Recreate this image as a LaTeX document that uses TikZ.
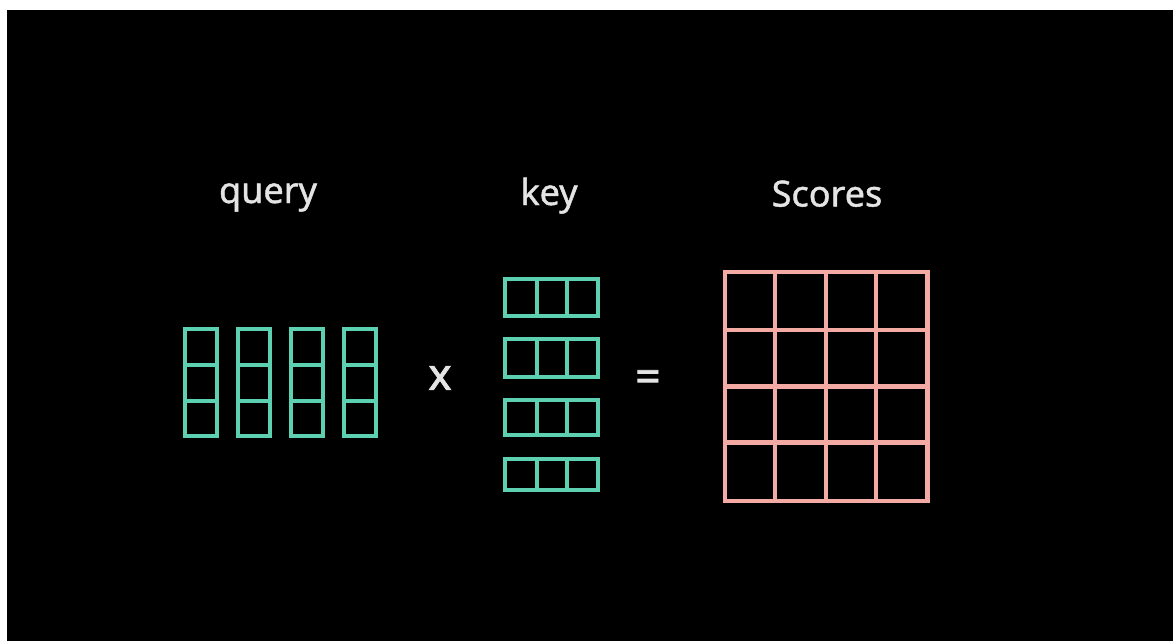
\documentclass[tikz,border=0pt]{standalone}
\usepackage{fontspec}
\setmainfont{Noto Sans}
\newfontfamily\lblfont[FakeBold=1.2]{Noto Sans}
\newfontfamily\opfont[FakeBold=1.8]{Noto Sans}
\definecolor{qcol}{HTML}{5CD0B0}
\definecolor{scol}{HTML}{F2AAA2}
\definecolor{tcol}{HTML}{E4E4E4}
\tikzset{
  qline/.style={draw=qcol, line width=4pt},
  sline/.style={draw=scol, line width=4.8pt, line cap=rect},
  label/.style={text=tcol, font=\lblfont\fontsize{36}{40}\selectfont, anchor=base, inner sep=0pt},
  op/.style={text=tcol, font=\opfont\fontsize{44}{48}\selectfont, inner sep=0pt}
}
\begin{document}
\begin{tikzpicture}[x=1pt,y=-1pt]
\useasboundingbox (0,0) rectangle (1173,641);
\fill[white] (0,0) rectangle (1173,641);
\fill[black] (7,10) rectangle (1173,641);
% labels
\node[label] (query) at (268,203) {query};
\node[label] (key) at (549,205) {key};
\node[label] (scores) at (827,206.5) {Scores};
\node[op] (times) at (440,378) {x};
\node[op] (eq) at (648,381) {=};
% query columns
\foreach \x in {185,238,291,344} {
  \draw[qline] (\x,329) rectangle ++(32,107);
  \draw[qline] (\x,364.5) -- ++(32,0);
  \draw[qline] (\x,400.5) -- ++(32,0);
}
% key rows
\foreach \t/\b in {279/316, 338.5/376.5, 400/435, 458.5/490} {
  \draw[qline] (505,\t) rectangle (598,\b);
  \draw[qline] (536.5,\t) -- (536.5,\b);
  \draw[qline] (567,\t) -- (567,\b);
}
% scores grid
\foreach \x in {725,775,826,876,927.5} \draw[sline] (\x,272) -- (\x,501);
\foreach \y in {272,330,386.7,442.7,501} \draw[sline] (725,\y) -- (927.5,\y);
\end{tikzpicture}
\end{document}
